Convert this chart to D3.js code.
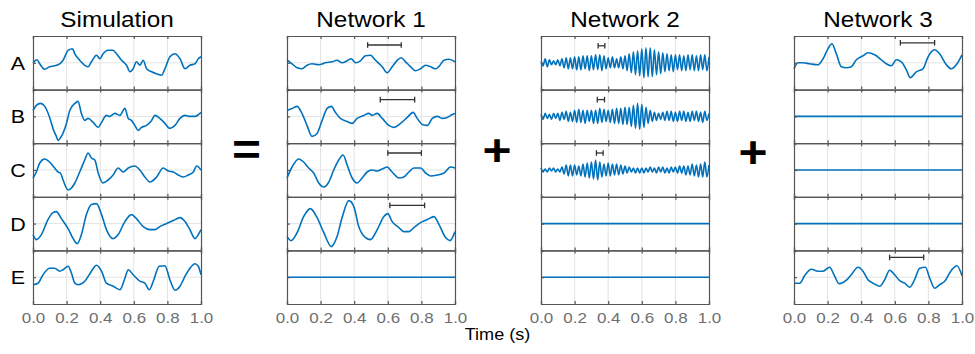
<!DOCTYPE html>
<html><head><meta charset="utf-8">
<script src="https://cdn.jsdelivr.net/npm/d3@7"></script>
<style>body{margin:0;background:#fff} svg{display:block;background:#fff}</style>
</head><body><svg id="c" width="975" height="354"></svg>
<script>
// ---------------- DATA ----------------
const panelTitles = ["Simulation", "Network 1", "Network 2", "Network 3"];
const rowLabels = ["A", "B", "C", "D", "E"];
const timeTicks = [0, 0.2, 0.4, 0.6, 0.8, 1.0];
const axisLabel = "Time (s)";
const operators = ["=", "+", "+"];

// Simulation traces [time (s), amplitude]
const simA = [[0,0],[.024,3],[.04,-1],[.07,-6.5],[.099,-4],[.129,-3],[.159,-1],[.179,2.5],[.209,12.5],[.235,14],[.249,9],[.278,2.5],[.308,-2.5],[.328,-4],[.348,1],[.378,7.5],[.398,4],[.417,9],[.447,12.5],[.477,12.5],[.497,9],[.527,2.5],[.557,-2.5],[.577,-9],[.596,-6],[.616,1],[.636,-2.5],[.656,2.5],[.676,-6],[.706,-9],[.736,-11],[.765,-12.5],[.785,-6],[.815,6],[.845,9],[.875,4],[.905,-6],[.934,-2.5],[.964,-1],[.984,4],[1,6]];
const simB = [[0,6],[.02,11],[.044,13],[.07,10],[.099,-1],[.119,-12],[.139,-20],[.149,-24],[.169,-20],[.199,-7],[.219,6],[.249,13],[.268,15],[.288,3],[.308,-4],[.328,-2],[.358,-6],[.388,-11],[.408,-6],[.437,1],[.457,0],[.487,3],[.517,1],[.547,8],[.567,-2],[.586,-4],[.606,-9],[.626,-14],[.646,-11],[.676,-9],[.706,-4],[.726,1],[.755,-2],[.785,-7],[.815,-12],[.845,-9],[.875,-2],[.905,1],[.934,0],[.964,0],[1,4]];
const simC = [[0,-8],[.02,-2],[.04,7],[.07,11],[.099,8],[.129,2],[.149,-2],[.163,-3],[.179,-10],[.209,-20],[.229,-18],[.249,-13],[.278,-2],[.308,10],[.328,17],[.348,12],[.368,10],[.388,-3],[.417,-13],[.447,-10],[.477,-5],[.507,2],[.537,-2],[.567,2],[.606,4],[.636,0],[.666,-7],[.696,-12],[.736,-7],[.775,2],[.805,-1],[.835,-2],[.865,-5],[.895,-7],[.924,-5],[.954,-2],[.974,4],[1,0]];
const simD = [[0,-11],[.02,-16],[.05,-11],[.089,4],[.119,11],[.139,12],[.169,5],[.209,-5],[.239,-15],[.263,-20],[.288,-11],[.318,9],[.348,19],[.378,20],[.408,9],[.437,-6],[.477,-15],[.507,-11],[.547,2],[.586,9],[.616,5],[.656,-3],[.696,-6],[.726,-6],[.755,-3],[.795,0],[.835,3],[.875,6],[.905,2],[.934,-6],[.964,-15],[.984,-11],[1,-6]];
const simE = [[0,-7.5],[.03,-6],[.06,2.5],[.099,9],[.129,9],[.159,6],[.179,7.5],[.209,11],[.229,4],[.249,-6],[.268,-7.5],[.308,-4],[.348,6],[.378,12],[.408,6],[.437,-6],[.477,-9],[.517,-12.5],[.547,-1],[.567,7.5],[.596,2.5],[.636,-4],[.666,-6],[.692,-12.5],[.716,-4],[.751,11],[.785,11.5],[.815,-2.5],[.845,-13],[.875,-9],[.905,1],[.934,9],[.964,13.5],[.984,11],[1,2.5]];

// Network 1 traces
const n1A = [[0,3],[.03,-1],[.06,-5],[.089,-6],[.119,-2.5],[.149,-1],[.189,-2],[.229,0],[.268,1],[.298,2.5],[.328,0],[.358,2],[.382,4],[.408,0],[.437,2],[.467,7],[.497,7.5],[.527,2.5],[.567,-4],[.596,-10],[.626,-4],[.656,2.5],[.68,5],[.706,1],[.736,-4],[.765,-8],[.795,-6],[.825,-2.5],[.855,-4],[.885,-6],[.905,-3.5],[.934,2.5],[.964,3.5],[1,1]];
const n1B = [[0,6],[.03,8],[.06,10],[.089,3],[.119,-9],[.149,-20],[.179,-17],[.209,-4],[.239,8],[.264,10],[.288,4],[.318,-2],[.358,-5],[.388,-7],[.417,-2],[.457,1],[.487,3],[.507,1],[.537,3],[.567,-2],[.606,-9],[.636,-11],[.676,-7],[.716,-1],[.751,4],[.775,-2],[.805,-8],[.835,-9],[.865,-2],[.895,0],[.924,-2],[.954,-1],[.984,2],[1,3]];
const n1C = [[0,-8],[.03,3],[.07,11],[.099,8],[.129,2],[.159,-3],[.189,-13],[.219,-17],[.249,-12],[.278,0],[.308,10],[.334,15],[.358,5],[.388,-8],[.417,-13],[.447,-8],[.477,-2],[.507,0],[.537,-1],[.567,1],[.596,3],[.626,-2],[.666,-8],[.696,-7],[.726,-2],[.755,2],[.795,2],[.825,-3],[.855,-6],[.895,-5],[.934,-3],[.974,3],[1,2]];
const n1D = [[0,-13],[.024,-17],[.06,-9],[.099,7],[.139,15],[.179,6],[.219,-9],[.264,-23],[.298,-13],[.328,6],[.368,23],[.398,17],[.427,-3],[.467,-14],[.497,-16],[.537,-6],[.577,7],[.6,10],[.626,2],[.666,-4],[.696,-8],[.726,-8],[.755,-4],[.795,1],[.835,4],[.875,7],[.905,-1],[.944,-14],[.97,-17],[1,-8]];
const n1E = [[0,0],[1,0]];

// Network 2: successive peaks/troughs of the fast oscillation, one every 0.0125 s
const n2Step = 0.0125;
const n2A = [1,-3,4,-4,3,-2,2,-2,3, -3,4,-5,5,-6,5,-6,6, -7,6,-7,7,-6,7,-8,7, -7,8,-7,8,-8,7,-6,5, -5,6,-5,4,-5,6,-6,7, -8,9,-10,11,-12,12,-13,14, -15,15,-14,15,-14,13,-12,11, -11,10,-9,9,-8,8,-9,8, -7,8,-8,7,-8,8,-7,8, -8,7,-8,8,-7,8,-8,6];
const n2B = [2,-3,3,-2,2,-3,3,-2,3, -4,4,-3,5,-5,4,-5,6, -6,7,-6,6,-7,6,-5,6, -7,6,-7,8,-6,7,-5,6, -6,7,-7,8,-7,8,-8,9, -8,9,-10,11,-12,13,-13,12, -11,9,-7,6,-5,4,-4,3, -3,4,-4,5,-4,5,-5,4, -5,5,-4,5,-5,4,-5,5, -4,5,-5,4,-6,5,-4,3];
const n2C = [2,-2,1,-2,2,-1,2,-2,1, -2,3,-4,5,-6,5,-6,5, -5,4,-6,6,-7,7,-8,8, -9,10,-10,8,-7,6,-6,7, -6,6,-5,6,-5,5,-4,4, -3,3,-2,2,-3,2,-3,2, -3,2,-2,3,-2,2,-3,3, -2,3,-3,2,-3,3,-2,3, -3,4,-3,4,-5,4,-5,6, -6,5,-7,6,-7,8,-7,5];
const n2D = [[0,0],[1,0]];
const n2E = [[0,0],[1,0]];

// Network 3 traces
const n3A = [[0,-6],[.024,0],[.054,0],[.093,-1],[.143,-2],[.173,4],[.202,14],[.226,19],[.252,9],[.282,-4],[.312,-5],[.341,-4],[.371,3],[.411,7],[.44,10],[.48,8],[.52,3],[.55,-1],[.579,-3],[.609,3],[.639,1],[.669,-7],[.692,-15],[.728,-9],[.768,-6],[.798,6],[.837,13],[.867,9],[.907,-2],[.937,-6],[.966,-2],[1,8]];
const n3B = [[0,0],[1,0]];
const n3C = [[0,0],[1,0]];
const n3D = [[0,0],[1,0]];
const n3E = [[0,-6],[.034,-6],[.063,1.5],[.103,8],[.143,6],[.173,6],[.212,10],[.242,1],[.268,-6.5],[.312,-3],[.341,2.5],[.381,10],[.411,6],[.44,-2.5],[.47,-6],[.51,-9],[.54,-2.5],[.569,7],[.599,2.5],[.629,-3.5],[.659,-6],[.688,-10],[.718,-2.5],[.748,9],[.782,10],[.808,-1],[.837,-11],[.867,-7.5],[.897,-4],[.937,7],[.97,11.5],[1,1.5]];

// Scale bars: [row index, start (s), end (s), level]
const n1Bars = [[0,.48,.68,17.8],[1,.555,.76,16.8],[2,.60,.80,17],[3,.612,.819,18.2]];
const n2Bars = [[0,.34,.38,17],[1,.335,.378,16.8],[2,.33,.37,17]];
const n3Bars = [[0,.633,.837,20],[4,.569,.772,19.8]];

// ---------------- DRAWING ----------------
const toSeries = vals => vals.map((v, i) => [i * n2Step, v]);
const panels = [
  { rows: [simA, simB, simC, simD, simE], bars: [] },
  { rows: [n1A, n1B, n1C, n1D, n1E], bars: n1Bars },
  { rows: [toSeries(n2A), toSeries(n2B), toSeries(n2C), n2D, n2E], bars: n2Bars },
  { rows: [n3A, n3B, n3C, n3D, n3E], bars: n3Bars }
];

const panelLeft = [33, 287, 541, 794];
const panelW = 168, top0 = 36, rowH = 53.6;
const FONT = '"Liberation Sans", Arial, Helvetica, sans-serif';
const SX = 1.13;
const BLUE = "#0072BD", BORDER = "#555", GRID = "#e3e3e3";

const svg = d3.select("#c");
const x = d3.scaleLinear().domain([0, 1]).range([0, panelW]);
const y = d3.scaleLinear().domain([-26.8, 26.8]).range([rowH, 0]);
const line = d3.line().x(d => x(d[0])).y(d => y(d[1])).curve(d3.curveMonotoneX);

function stretchedText(g, tx, ty, txt, size, opts = {}) {
  return g.append("text")
    .attr("transform", `translate(${tx},${ty}) scale(${SX},1)`)
    .attr("text-anchor", opts.anchor || "middle")
    .attr("font-family", FONT)
    .attr("font-size", size)
    .attr("font-weight", opts.weight || "normal")
    .attr("fill", opts.fill || "#000")
    .text(txt);
}

panels.forEach((p, pi) => {
  const pg = svg.append("g").attr("transform", `translate(${panelLeft[pi]},0)`);
  stretchedText(pg, panelW / 2, 27, panelTitles[pi], 21.5);
  p.rows.forEach((series, ri) => {
    const g = pg.append("g").attr("transform", `translate(0,${top0 + ri * rowH})`);
    // grid
    g.selectAll("line.vg").data(timeTicks.slice(1, -1)).join("line")
      .attr("x1", d => x(d)).attr("x2", d => x(d)).attr("y1", 0).attr("y2", rowH)
      .attr("stroke", GRID).attr("stroke-width", 1);
    g.append("line").attr("x1", 0).attr("x2", panelW).attr("y1", y(0)).attr("y2", y(0))
      .attr("stroke", GRID).attr("stroke-width", 1);
    // trace
    g.append("path").datum(series).attr("d", line)
      .attr("fill", "none").attr("stroke", BLUE).attr("stroke-width", 1.6)
      .attr("stroke-linejoin", "round");
    // axes (inward ticks)
    const topAx = g.append("g").call(d3.axisTop(x).tickValues(timeTicks).tickSize(-3).tickFormat(""));
    const botAx = g.append("g").attr("transform", `translate(0,${rowH})`)
      .call(d3.axisBottom(x).tickValues(timeTicks).tickSize(-3).tickPadding(8)
        .tickFormat(ri === p.rows.length - 1 ? d3.format(".1f") : ""));
    const leftAx = g.append("g").call(d3.axisLeft(y).tickValues([0]).tickSize(-3).tickFormat(""));
    const rightAx = g.append("g").attr("transform", `translate(${panelW},0)`)
      .call(d3.axisRight(y).tickValues([]).tickSize(0).tickFormat(""));
    [topAx, botAx, leftAx, rightAx].forEach(a => {
      a.select(".domain").attr("stroke", BORDER).attr("stroke-width", 1.2);
      a.selectAll(".tick line").attr("stroke", BORDER).attr("stroke-width", 1.2);
      a.selectAll(".tick text").attr("font-family", FONT).attr("font-size", 15)
        .attr("fill", "#6e6e6e").attr("transform", `scale(${SX},1)`);
    });
    // row labels
    if (pi === 0) stretchedText(svg, 18, top0 + ri * rowH + rowH / 2 + 7, rowLabels[ri], 19);
  });
  // scale bars
  p.bars.forEach(([ri, t0, t1, lv]) => {
    const g = pg.append("g").attr("transform", `translate(0,${top0 + ri * rowH})`);
    const yy = y(lv);
    g.append("line").attr("x1", x(t0)).attr("x2", x(t1)).attr("y1", yy).attr("y2", yy)
      .attr("stroke", "#333").attr("stroke-width", 1.3);
    [t0, t1].forEach(t => g.append("line").attr("x1", x(t)).attr("x2", x(t))
      .attr("y1", yy - 2.8).attr("y2", yy + 2.8).attr("stroke", "#333").attr("stroke-width", 1.3));
  });
});

// operators between panels
const opPos = [[246.5, 165], [497, 166], [753, 168]];
operators.forEach((o, i) => stretchedText(svg, opPos[i][0], opPos[i][1], o, 44, { weight: "bold" }));

// x-axis title
stretchedText(svg, 497.5, 340, axisLabel, 16);
</script>
</body></html>
